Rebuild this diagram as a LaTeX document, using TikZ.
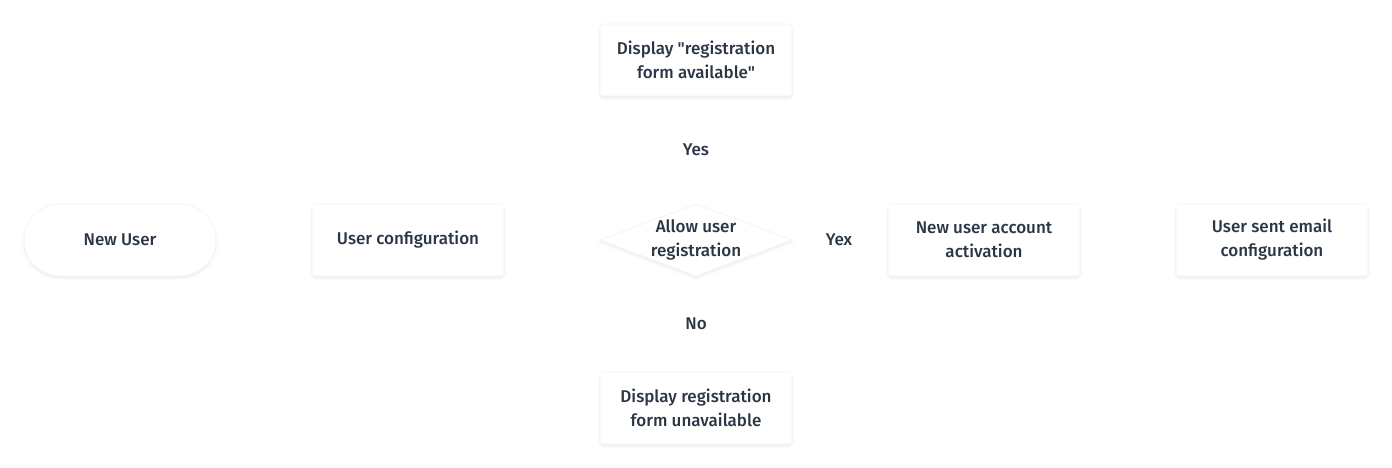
\documentclass[tikz,border=0pt]{standalone}
\usepackage{fontspec}
\setmainfont[UprightFont=* Medium, Ligatures=TeXOff]{Fira Sans}
\usetikzlibrary{shapes.geometric,shadows.blur}
\definecolor{txt}{HTML}{2B3645}
\definecolor{edge}{HTML}{F2F3F5}
\tikzset{
  base/.style={fill=white, draw=edge, line width=0.6pt, text=txt,
    font=\fontsize{17}{24}\selectfont, align=center,
    blur shadow={shadow blur steps=6, shadow xshift=0pt, shadow yshift=-2pt, shadow opacity=8, shadow blur radius=3pt}},
  procbox/.style={base, rectangle, rounded corners=3pt, minimum width=192pt, minimum height=72pt, inner sep=0pt},
  termbox/.style={base, rectangle, rounded corners=36pt, minimum width=192pt, minimum height=72pt, inner sep=0pt},
  lbl/.style={text=txt, font=\fontsize{17}{24}\selectfont}
}
\begin{document}
\begin{tikzpicture}[x=1pt,y=-1pt]
\useasboundingbox (0,0) rectangle (1392,468);
\node[termbox] (newuser) at (120,240) {New User};
\node[procbox] (userconf) at (408,240) {User configuration};
\path (696,240) coordinate (dc);
\draw[fill=white, draw=edge, line width=0.6pt, blur shadow={shadow blur steps=6, shadow xshift=0pt, shadow yshift=-2pt, shadow opacity=8, shadow blur radius=3pt}]
  (600,240) -- (696,204) -- (792,240) -- (696,276) -- cycle;
\node[lbl, align=center] (allow) at (dc) {Allow user\\registration};
\node[procbox] (avail) at (696,60) {Display "registration\\form available"};
\node[procbox] (unavail) at (696,408) {Display registration\\form unavailable};
\node[procbox] (activ) at (984,240) {New user account\\activation};
\node[procbox] (email) at (1272,240) {User sent email\\configuration};
\node[lbl] (yes) at (696,150) {Yes};
\node[lbl] (yex) at (839,240) {Yex};
\node[lbl] (no) at (696,324) {No};
\end{tikzpicture}
\end{document}
